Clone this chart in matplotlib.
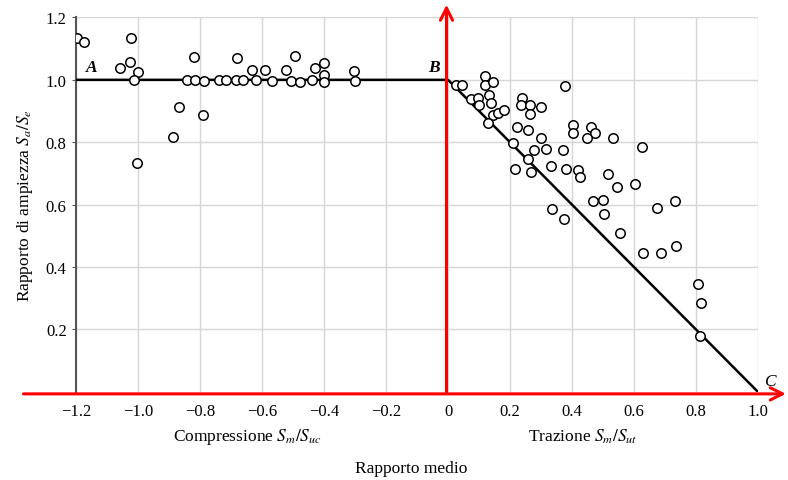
import matplotlib
matplotlib.use("Agg")
import matplotlib.pyplot as plt
import matplotlib.transforms as mtransforms

# test points, compression side (Sm/Suc < 0)
comp_x = [-1.197, -1.174, -1.023, -1.06, -1.026, -1.002, -1.013, -1.006, -0.887, -0.87,
          -0.843, -0.817, -0.821, -0.788, -0.791, -0.740, -0.718, -0.684, -0.663, -0.682,
          -0.632, -0.620, -0.591, -0.570, -0.523, -0.507, -0.495, -0.478, -0.439, -0.431,
          -0.399, -0.399, -0.399, -0.303, -0.301]
comp_y = [1.133, 1.12, 1.135, 1.037, 1.057, 1.025, 0.998, 0.732, 0.817, 0.913,
          1.0, 1.0, 1.073, 0.997, 0.888, 0.998, 0.998, 1.0, 0.998, 1.069,
          1.033, 1.0, 1.03, 0.997, 1.03, 0.997, 1.078, 0.993, 0.998, 1.037,
          1.054, 1.014, 0.993, 1.027, 0.997]

# test points, tension side (Sm/Sut > 0)
tens_x = [0.026, 0.046, 0.119, 0.119, 0.144, 0.074, 0.098, 0.101, 0.131, 0.139,
          0.144, 0.162, 0.181, 0.130, 0.238, 0.235, 0.265, 0.265, 0.299, 0.378,
          0.224, 0.257, 0.300, 0.402, 0.402, 0.461, 0.474, 0.449, 0.532, 0.627,
          0.211, 0.257, 0.278, 0.316, 0.370, 0.216, 0.267, 0.331, 0.381, 0.418,
          0.426, 0.517, 0.544, 0.605, 0.467, 0.501, 0.505, 0.675, 0.732, 0.337,
          0.373, 0.554, 0.631, 0.686, 0.735, 0.807, 0.818, 0.814]
tens_y = [0.984, 0.984, 1.012, 0.984, 0.992, 0.939, 0.941, 0.920, 0.952, 0.925,
          0.888, 0.893, 0.902, 0.861, 0.942, 0.920, 0.918, 0.891, 0.913, 0.980,
          0.850, 0.838, 0.815, 0.855, 0.830, 0.850, 0.830, 0.814, 0.813, 0.784,
          0.796, 0.747, 0.775, 0.777, 0.776, 0.713, 0.704, 0.725, 0.715, 0.710,
          0.689, 0.698, 0.657, 0.665, 0.610, 0.616, 0.571, 0.589, 0.613, 0.585,
          0.555, 0.509, 0.446, 0.446, 0.467, 0.345, 0.283, 0.178]

# failure criterion A-B-C
crit_x = [-1.2, 0.0, 1.0]
crit_y = [1.0, 1.0, 0.0]

x_ticks = [-1.2, -1.0, -0.8, -0.6, -0.4, -0.2, 0.0, 0.2, 0.4, 0.6, 0.8, 1.0]
x_labels = ["\u22121.2", "\u22121.0", "\u22120.8", "\u22120.6", "\u22120.4", "\u22120.2",
            "0", "0.2", "0.4", "0.6", "0.8", "1.0"]
y_ticks = [0.2, 0.4, 0.6, 0.8, 1.0, 1.2]
y_labels = ["0.2", "0.4", "0.6", "0.8", "1.0", "1.2"]


def main():
    plt.rcParams["font.family"] = ["Liberation Serif", "DejaVu Serif"]
    plt.rcParams["mathtext.fontset"] = "stix"

    fig = plt.figure(figsize=(7.88, 4.81), dpi=100)
    ax = fig.add_axes([0.097, 0.1836, 0.8646, 0.778])

    ax.plot(crit_x, crit_y, color="black", linewidth=1.8, zorder=3)
    ax.plot(comp_x, comp_y, "o", markersize=6.8, markerfacecolor="white",
            markeredgecolor="black", markeredgewidth=1.1, zorder=4)
    ax.plot(tens_x, tens_y, "o", markersize=6.8, markerfacecolor="white",
            markeredgecolor="black", markeredgewidth=1.1, zorder=4)

    ax.set_xlim(-1.2, 1.0)
    ax.set_ylim(0, 1.2)
    ax.set_xticks(x_ticks)
    ax.set_xticklabels(x_labels, fontsize=12)
    ax.set_yticks(y_ticks)
    ax.set_yticklabels(y_labels, fontsize=12)
    ax.tick_params(axis="x", length=0, pad=8)
    ax.tick_params(axis="y", length=3, color="#555555", pad=4)

    ax.grid(True, color="#d6d6d6", linewidth=1.0)
    ax.set_axisbelow(True)
    for side in ["top", "right", "bottom"]:
        ax.spines[side].set_visible(False)
    ax.spines["left"].set_color("#555555")
    ax.spines["left"].set_linewidth(1.5)

    ax.set_ylabel("Rapporto di ampiezza $S_a/S_e$", fontsize=12.5, labelpad=8)

    trans = mtransforms.blended_transform_factory(ax.transData, ax.transAxes)
    ax.text(-0.648, -0.118, "Compressione $S_m/S_{uc}$", transform=trans,
            ha="center", va="center", fontsize=12.5)
    ax.text(0.435, -0.118, "Trazione $S_m/S_{ut}$", transform=trans,
            ha="center", va="center", fontsize=12.5)
    ax.text(-0.12, -0.203, "Rapporto medio", transform=trans,
            ha="center", va="center", fontsize=12.5)

    ax.text(-1.15, 1.04, "A", fontsize=12.5, style="italic", weight="bold",
            ha="center", va="center")
    ax.text(-0.047, 1.04, "B", fontsize=12.5, style="italic", weight="bold",
            ha="center", va="center")
    ax.text(1.04, 0.035, "C", fontsize=12.5, style="italic",
            ha="center", va="center", clip_on=False)

    # red reference axes with arrow heads
    ax.annotate("", xy=(1.10, -0.007), xytext=(-1.38, -0.007),
                arrowprops=dict(arrowstyle="->", color="red", lw=2.2, mutation_scale=22),
                annotation_clip=False, zorder=6)
    ax.annotate("", xy=(-0.005, 1.25), xytext=(-0.005, -0.012),
                arrowprops=dict(arrowstyle="->", color="red", lw=2.2, mutation_scale=22),
                annotation_clip=False, zorder=6)

    fig.savefig("out.png", dpi=100)


if __name__ == "__main__":
    main()
